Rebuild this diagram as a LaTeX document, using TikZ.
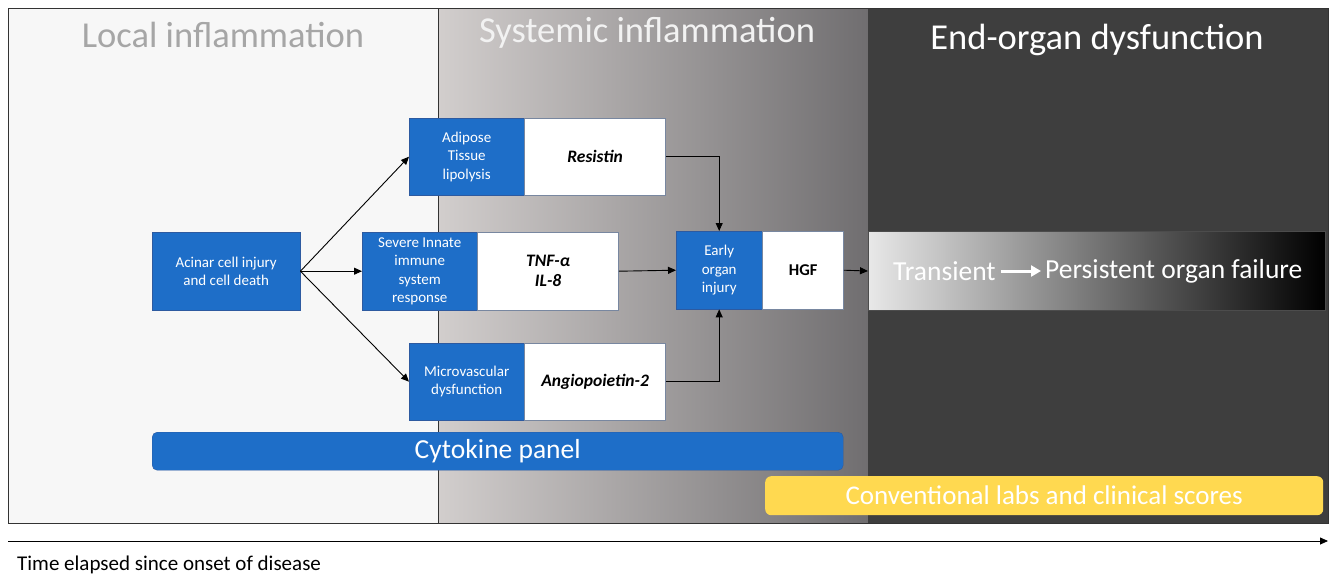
\documentclass[tikz,border=0pt]{standalone}
\usepackage{fontspec}
\setmainfont{Carlito}
\usetikzlibrary{arrows.meta}

\definecolor{cellblue}{RGB}{30,110,200}
\definecolor{cellline}{RGB}{45,90,160}
\definecolor{boxline}{RGB}{120,135,160}
\definecolor{paneldark}{RGB}{62,62,62}
\definecolor{panellight}{RGB}{247,247,247}
\definecolor{labyellow}{RGB}{255,217,80}
\definecolor{titlegray}{RGB}{166,166,166}

\tikzset{
  bluebox/.style={draw=cellline, fill=cellblue, text=white, align=center,
    inner sep=0pt, font=\fontsize{15}{18.5}\selectfont},
  markerbox/.style={draw=boxline, fill=white, align=center, inner sep=0pt,
    font=\fontsize{17.5}{20}\selectfont\bfseries\itshape},
  flow/.style={-{Triangle[length=8pt,width=7pt]}, line width=0.9pt, black},
  paneltitle/.style={font=\fontsize{36.5}{40}\selectfont}
}

\begin{document}
\begin{tikzpicture}[x=1pt, y=-1pt]
  \useasboundingbox (0,0) rectangle (1331,576);
  % panels
  \fill[panellight] (8,8) rectangle (438,523);
  \shade[left color={rgb,255:red,210;green,206;blue,205}, right color={rgb,255:red,112;green,110;blue,112}] (438,8) rectangle (868,523);
  \fill[paneldark] (868,8) rectangle (1328,523);
  \draw[line width=1pt, black!80] (8,8) rectangle (1328,523);
  \draw[line width=1pt, black!80] (438,8) -- (438,523);
  \node[paneltitle, text=titlegray] (ttlocal) at (223,35) {Local inflammation};
  \node[paneltitle, text=white!95!black] (ttsys) at (647,33) {Systemic inflammation};
  \node[paneltitle, text=white] (ttend) at (1097,40) {End-organ dysfunction};

  % cascade
  \node[bluebox, minimum width=148, minimum height=78, anchor=north west] (acinar) at (152,232) {Acinar cell injury\\and cell death};
  \node[bluebox, minimum width=115, minimum height=77, anchor=north west] (adipose) at (409,118) {Adipose\\Tissue\\lipolysis};
  \node[markerbox, minimum width=141, minimum height=77, anchor=west] (resistin) at (adipose.east) {Resistin};
  \node[bluebox, minimum width=115, minimum height=78, anchor=north west] (innate) at (362,232) {Severe Innate\\immune\\system\\response};
  \node[markerbox, minimum width=141, minimum height=78, anchor=west] (tnf) at (innate.east) {TNF-α\\IL-8};
  \node[bluebox, minimum width=115, minimum height=77, anchor=north west] (micro) at (409,343) {Microvascular\\dysfunction};
  \node[markerbox, minimum width=141, minimum height=77, anchor=west] (angio) at (micro.east) {Angiopoietin-2};
  \node[bluebox, minimum width=86, minimum height=78, anchor=north west] (early) at (676,231) {Early\\organ\\injury};
  \node[markerbox, font=\fontsize{16.5}{20}\selectfont\bfseries, minimum width=81, minimum height=78, anchor=west] (hgf) at (early.east) {HGF};

  % organ failure bar
  \node[draw=black!70, left color={rgb,255:red,232;green,232;blue,232}, middle color={rgb,255:red,95;green,95;blue,95}, right color=black,
    minimum width=457, minimum height=79, anchor=west, inner sep=0pt] (failure) at (868,271) {};
  \node[text=white, font=\fontsize{27.5}{32}\selectfont, anchor=west, inner sep=0pt] (transient) at (893,271) {Transient};
  \node[text=white, font=\fontsize{27.5}{32}\selectfont, anchor=west, inner sep=0pt] (persistent) at (1045,271) {Persistent organ failure};
  \draw[white, line width=3pt, -{Triangle[length=10pt,width=11pt]}] ([xshift=5pt]transient.east) -- ([xshift=-4pt]persistent.west);

  % connectors
  \draw[flow] (acinar.east) -- (adipose.west);
  \draw[flow] (acinar.east) -- (innate.west);
  \draw[flow] (acinar.east) -- (micro.west);
  \draw[flow] (resistin.east) -| (early.north);
  \draw[flow] (tnf.east) -- (early.west);
  \draw[flow] (angio.east) -| (early.south);
  \draw[flow] (hgf.east) -- (failure.west);

  % panels of tests
  \node[draw=cellline, fill=cellblue, rounded corners=5pt, text=white, font=\fontsize{27.5}{30}\selectfont,
    minimum width=691, minimum height=38, anchor=north west, inner sep=0pt] (cytokine) at (152,432) {Cytokine panel};
  \node[fill=labyellow, rounded corners=6pt, text=white, font=\fontsize{27}{30}\selectfont,
    minimum width=558, minimum height=39, anchor=north west, inner sep=0pt] (labs) at (765,476) {Conventional labs and clinical scores};

  % time axis
  \coordinate (tstart) at (8,541);
  \coordinate (tend) at (1328,541);
  \draw[flow, line width=0.8pt] (tstart) -- (tend);
  \node[font=\fontsize{21}{24}\selectfont, anchor=west, inner sep=0pt] (timelabel) at (17,565) {Time elapsed since onset of disease};
\end{tikzpicture}
\end{document}
